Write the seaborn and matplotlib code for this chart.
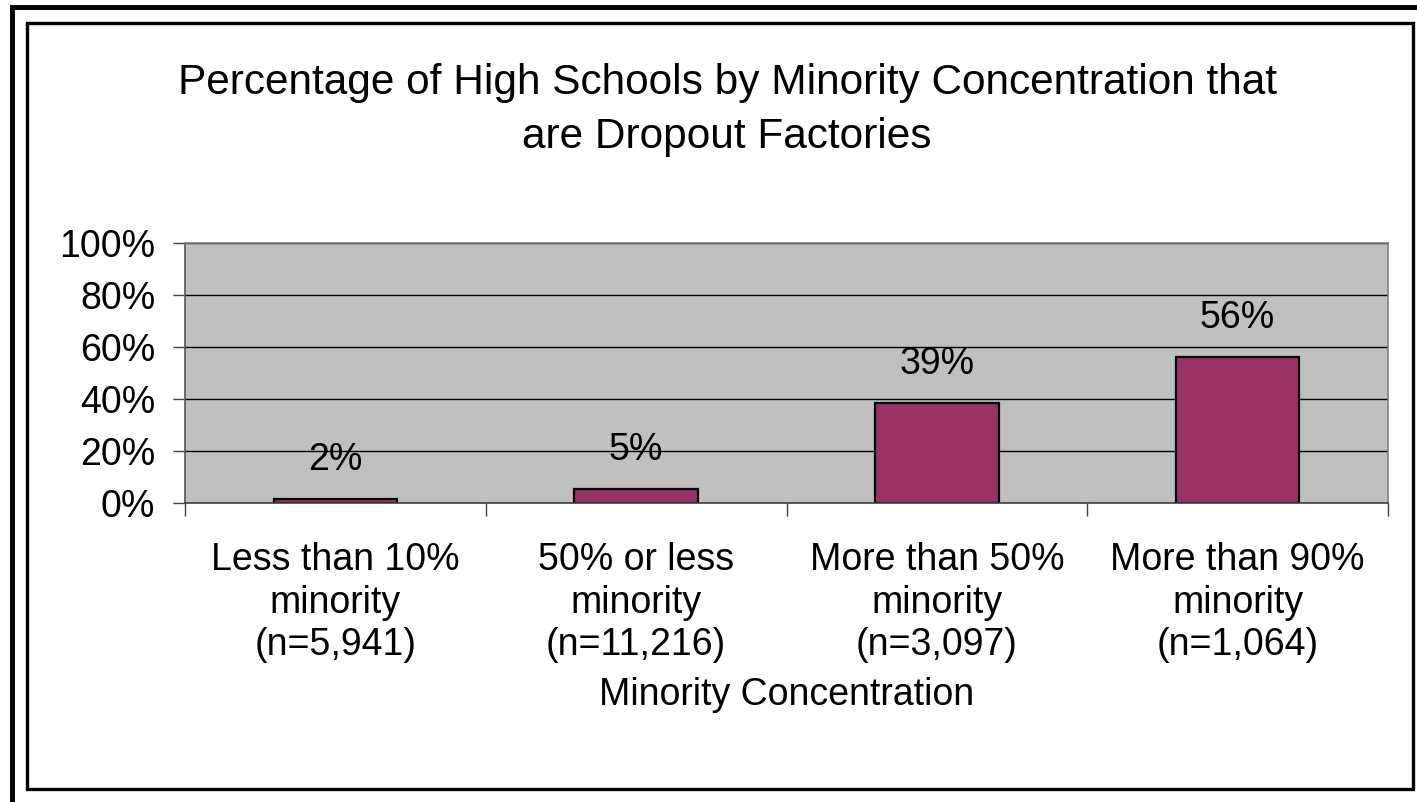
#=====================================================================================================
# Program Name     : DropoutFactoriesBarPlot
# Description      : Bar plot of the percentage of high schools that are dropout factories,
#                    grouped by minority concentration.
# Output           : out.png
#=====================================================================================================

import matplotlib
matplotlib.use("Agg")
import pandas as pd
import matplotlib.pyplot as plt
import seaborn as sns
from matplotlib.patches import Rectangle
from matplotlib.ticker import FixedLocator, PercentFormatter

# Data
Categories = [
    "Less than 10%\nminority\n(n=5,941)",
    "50% or less\nminority\n(n=11,216)",
    "More than 50%\nminority\n(n=3,097)",
    "More than 90%\nminority\n(n=1,064)",
]
Percentages = [1.6, 5.4, 38.6, 56.2]
Bar_Labels = ["2%", "5%", "39%", "56%"]
Y_Ticks = [0, 20, 40, 60, 80, 100]

Title = "Percentage of High Schools by Minority Concentration that\nare Dropout Factories"
X_Label = "Minority Concentration"

#-----------------------------------------------------------------------------------------------------
# Function Name    : plot_dropout_factories
# Description      : Draws the bar chart in the old Excel style and saves it.
#-----------------------------------------------------------------------------------------------------
def plot_dropout_factories(df):
    sns.set_style("white")
    plt.rcParams["font.family"] = ["Liberation Sans", "DejaVu Sans"]
    plt.rcParams["text.color"] = "black"
    plt.rcParams["axes.labelcolor"] = "black"
    plt.rcParams["xtick.labelcolor"] = "black"
    plt.rcParams["ytick.labelcolor"] = "black"

    W, H = 1417, 802
    fs = 27
    fig = plt.figure(figsize=(W / 100, H / 100), dpi=100)
    fig.patch.set_facecolor("white")

    # plot area in pixels: left 185, right 1388, top 243, bottom 503
    ax = fig.add_axes([185 / W, (H - 503) / H, (1388 - 185) / W, (503 - 243) / H])

    sns.barplot(
        data=df,
        x="Category",
        y="Percent",
        color="#993366",
        edgecolor="black",
        linewidth=1.6,
        width=0.41,
        saturation=1,
        ax=ax,
    )

    ax.set_facecolor("#C0C0C0")
    ax.set_ylim(0, 100)
    ax.set_xlim(-0.5, len(Categories) - 0.5)
    ax.yaxis.set_major_locator(FixedLocator(Y_Ticks))
    ax.yaxis.set_major_formatter(PercentFormatter(decimals=0))

    ax.grid(axis="y", color="black", linewidth=1.0)
    ax.set_axisbelow(True)

    for side in ["top", "right"]:
        ax.spines[side].set_color("#808080")
        ax.spines[side].set_linewidth(1.2)
    ax.spines["left"].set_color("#555555")
    ax.spines["bottom"].set_color("#404040")
    for side in ["left", "bottom"]:
        ax.spines[side].set_linewidth(1.2)

    ax.tick_params(axis="y", direction="out", length=9, width=1, color="#404040",
                   labelsize=fs, pad=12.5, left=True)
    ax.tick_params(axis="x", which="major", length=0, labelsize=fs, pad=28)
    ax.set_xticks([i - 0.5 for i in range(len(Categories) + 1)], minor=True)
    ax.tick_params(axis="x", which="minor", direction="out", length=9, width=1,
                   color="#404040", bottom=True)
    for lbl in ax.get_xticklabels():
        lbl.set_linespacing(1.24)

    ax.set_xlabel(X_Label, fontsize=fs, labelpad=10)
    ax.set_ylabel("")

    for i, (val, txt) in enumerate(zip(df["Percent"], Bar_Labels)):
        ax.annotate(txt, (i, val), xytext=(0, 28), textcoords="offset points",
                    ha="center", va="center", fontsize=fs)

    fig.text(727 / W, 1 - 110 / H, Title, ha="center", va="center",
             fontsize=30.5, linespacing=1.44)

    # chart area frame and outer page frame
    fig.patches.append(Rectangle((27 / W, 1 - 789 / H), (1413 - 27) / W, (789 - 23) / H,
                                 transform=fig.transFigure, fill=False,
                                 edgecolor="black", linewidth=2.4))
    fig.patches.append(Rectangle((11.5 / W, 1 - 830 / H), 1.2, (830 - 6.5) / H,
                                 transform=fig.transFigure, fill=False,
                                 edgecolor="black", linewidth=3.6))

    fig.savefig("out.png", dpi=100)
    plt.close(fig)

#-----------------------------------------------------------------------------------------------------
# Function Name    : main
#-----------------------------------------------------------------------------------------------------
def main():
    df = pd.DataFrame({"Category": Categories, "Percent": Percentages})
    plot_dropout_factories(df)

if __name__ == "__main__":
    main()
